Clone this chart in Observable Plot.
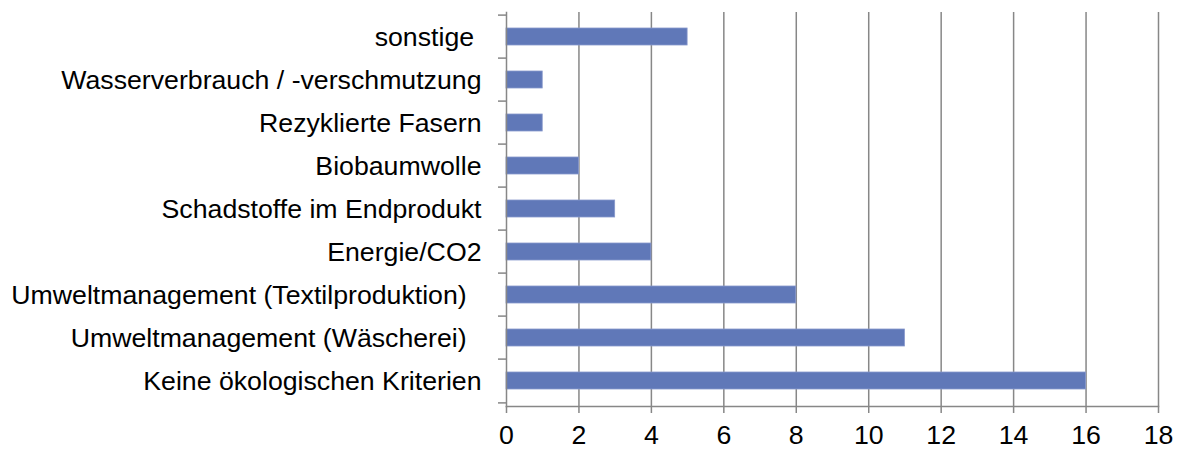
<!DOCTYPE html>
<html><head><meta charset="utf-8">
<script src="https://cdn.jsdelivr.net/npm/d3@7"></script>
<script src="https://cdn.jsdelivr.net/npm/@observablehq/plot@0.6"></script>
<style>
body{margin:0;background:#fff}
#chart svg text{font-size:26.7px !important;font-family:'Liberation Sans', Arial, sans-serif !important;fill:#000}
</style>
</head><body><div id="chart"></div>
<script>
const categories = [
  "sonstige\u00a0",
  "Wasserverbrauch / -verschmutzung",
  "Rezyklierte Fasern",
  "Biobaumwolle",
  "Schadstoffe im Endprodukt",
  "Energie/CO2",
  "Umweltmanagement (Textilproduktion)\u00a0\u00a0",
  "Umweltmanagement (Wäscherei)\u00a0\u00a0",
  "Keine ökologischen Kriterien"
];
const values = [5, 1, 1, 2, 3, 4, 8, 11, 16];
const xTicks = [0, 2, 4, 6, 8, 10, 12, 14, 16, 18];

const data = categories.map((c, i) => ({category: c, value: values[i]}));
const W = 1180, H = 450, mL = 506, mR = 22, mT = 12, mB = 44;
const step = (H - mT - mB) / categories.length;
const gray = "#878787";

const chart = Plot.plot({
  width: W, height: H,
  marginLeft: mL, marginRight: mR, marginTop: mT, marginBottom: mB,
  style: {fontFamily: "'Liberation Sans', Arial, sans-serif", fontSize: "26.7px", color: "#000", background: "#fff"},
  x: {domain: [0, 18], ticks: xTicks, label: null},
  y: {domain: categories, paddingInner: 0.6, paddingOuter: 0.3, label: null},
  marks: [
    Plot.ruleX(xTicks.filter(d => d > 0), {stroke: gray, strokeWidth: 1.5}),
    Plot.barX(data, {x: "value", y: "category", fill: "#6078b8", stroke: "#8898cc", strokeWidth: 0.8}),
    Plot.frame({anchor: "left", stroke: gray, strokeWidth: 1.5}),
    Plot.frame({anchor: "bottom", stroke: gray, strokeWidth: 1.5}),
    Plot.axisX({ticks: xTicks, tickSize: 7, tickPadding: 12, stroke: gray, strokeWidth: 1.5, label: null}),
    Plot.axisY({tickSize: 0, tickPadding: 25, label: null}),
    Plot.axisY({ticks: categories, tickSize: 8, tickFormat: () => "", dy: -step / 2, stroke: gray, strokeWidth: 1.5, label: null}),
    Plot.axisY({ticks: categories.slice(-1), tickSize: 8, tickFormat: () => "", dy: step / 2, stroke: gray, strokeWidth: 1.5, label: null})
  ]
});
document.getElementById("chart").append(chart);
</script>
</body></html>
